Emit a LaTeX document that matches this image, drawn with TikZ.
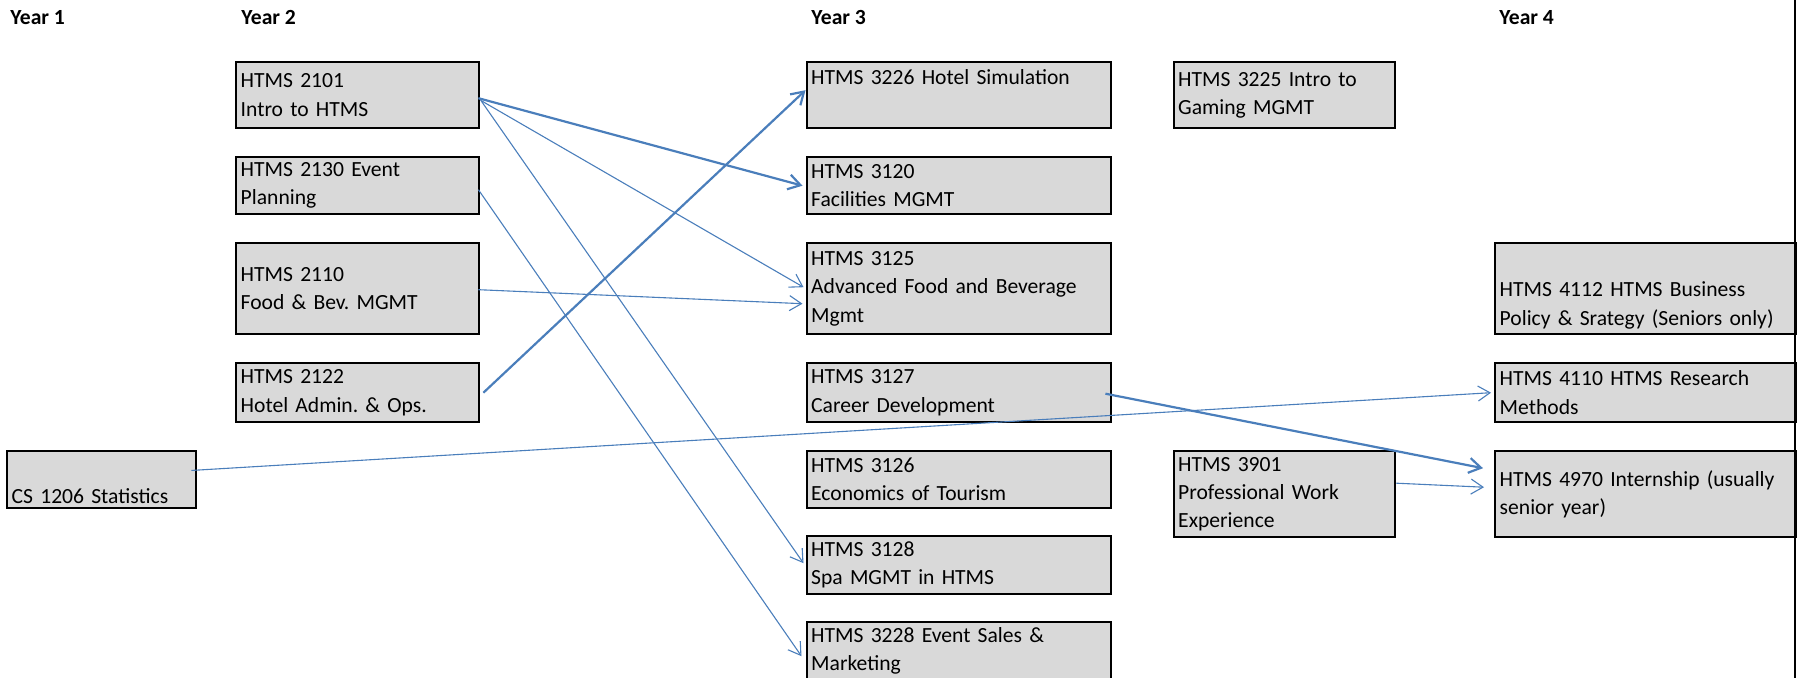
\documentclass[tikz,border=0pt]{standalone}
\usepackage{fontspec}
\setmainfont{Carlito}
\usetikzlibrary{arrows.meta}
\definecolor{boxgray}{HTML}{D9D9D9}
\definecolor{linkblue}{RGB}{74,126,187}
\frenchspacing

\begin{document}
\begin{tikzpicture}[x=0.5pt, y=-0.5pt,
  every node/.style={font=\fontsize{10.8}{14.15}\selectfont},
  year/.style={font=\fontsize{10.8}{14.15}\selectfont\bfseries, anchor=base west, inner sep=0pt},
  course/.style={draw=black, line width=1.2pt, fill=boxgray, anchor=north west, align=left, inner xsep=2.25pt, inner ysep=0pt},
  link/.style={draw=linkblue, line width=0.55pt, -{Straight Barb[length=6pt,width=7.5pt]}},
  boldlink/.style={link, line width=1.1pt}]
  \useasboundingbox (0,0) rectangle (1797,678);
  \clip (0,0) rectangle (1797,678);

  % year headings
  \node[year] (yr1) at (10,25) {Year 1};
  \node[year] (yr2) at (241,25) {Year 2};
  \node[year] (yr3) at (811,25) {Year 3};
  \node[year] (yr4) at (1499,25) {Year 4};

  % year 1
  \node[course, minimum width=94.5pt, minimum height=28.75pt, text width=90pt] (cstat) at (6,449.5) {\strut\\CS 1206 Statistics};

  % year 2
  \node[course, minimum width=121.5pt, minimum height=33pt, text width=117pt] (c2101) at (235,61) {HTMS 2101\\Intro to HTMS};
  \node[course, minimum width=121.5pt, minimum height=28.5pt, text width=117pt] (c2130) at (235,156) {HTMS 2130 Event\\Planning};
  \node[course, minimum width=121.5pt, minimum height=45.5pt, text width=117pt] (c2110) at (235,242) {HTMS 2110\\Food \& Bev. MGMT};
  \node[course, minimum width=121.5pt, minimum height=29.5pt, text width=117pt] (c2122) at (235,362) {HTMS 2122\\Hotel Admin. \& Ops.};

  % year 3
  \node[course, minimum width=152.25pt, minimum height=33pt, text width=147.75pt] (c3226) at (805.5,61) {HTMS 3226 Hotel Simulation\\\strut};
  \node[course, minimum width=152.25pt, minimum height=28.5pt, text width=147.75pt] (c3120) at (805.5,156) {HTMS 3120\\Facilities MGMT};
  \node[course, minimum width=152.25pt, minimum height=45.5pt, text width=147.75pt] (c3125) at (805.5,242) {HTMS 3125\\Advanced Food and Beverage\\Mgmt};
  \node[course, minimum width=152.25pt, minimum height=29.5pt, text width=147.75pt] (c3127) at (805.5,362) {HTMS 3127\\Career Development};
  \node[course, minimum width=152.25pt, minimum height=28.75pt, text width=147.75pt] (c3126) at (805.5,449.5) {HTMS 3126\\Economics of Tourism};
  \node[course, minimum width=152.25pt, minimum height=29pt, text width=147.75pt] (c3128) at (805.5,535) {HTMS 3128\\Spa MGMT in HTMS};
  \node[course, minimum width=152.25pt, minimum height=29pt, text width=147.75pt] (c3228) at (805.5,621) {HTMS 3228 Event Sales \&\\Marketing};
  \node[course, minimum width=110.75pt, minimum height=33pt, text width=106.25pt] (c3225) at (1172.5,61) {HTMS 3225 Intro to\\Gaming MGMT};
  \node[course, minimum width=110.75pt, minimum height=43pt, text width=106.25pt] (c3901) at (1172.5,450) {HTMS 3901\\Professional Work\\Experience};

  % year 4
  \node[course, minimum width=150.5pt, minimum height=45.5pt, text width=146pt] (c4112) at (1494,242) {\strut\\HTMS 4112 HTMS Business\\Policy \& Srategy (Seniors only)};
  \node[course, minimum width=150.5pt, minimum height=29.5pt, text width=146pt] (c4110) at (1494,362) {HTMS 4110 HTMS Research\\Methods};
  \node[course, minimum width=150.5pt, minimum height=43pt, text width=146pt] (c4970) at (1494,450) {HTMS 4970 Internship (usually\\senior year)};

  % right edge rule
  \coordinate (edgetop) at (1795,0);
  \coordinate (edgebot) at (1795,678);
  \draw[line width=1.2pt] (edgetop) -- (edgebot);

  % prerequisites
  \draw[boldlink] ([shift={(-2,3)}]c2101.east) -- ([shift={(-3,0)}]c3120.west);
  \draw[link] ([shift={(0,5)}]c2101.east) -- ([shift={(-2,-1.5)}]c3125.west);
  \draw[link] ([shift={(1,6)}]c2101.east) -- ([shift={(-2,-2)}]c3128.west);
  \draw[link] ([shift={(-2,4)}]c2130.east) -- ([shift={(-4,5)}]c3228.west);
  \draw[link] ([shift={(-2,1)}]c2110.east) -- ([shift={(-3,15)}]c3125.west);
  \draw[boldlink] ([shift={(3,0)}]c2122.east) -- ([shift={(0,-5)}]c3226.west);
  \draw[link] ([shift={(-6,-9)}]cstat.east) -- ([shift={(-3,0)}]c4110.west);
  \draw[boldlink] ([shift={(-7,1)}]c3127.east) -- ([shift={(-11,-26)}]c4970.west);
  \draw[link] ([shift={(0,-11)}]c3901.east) -- ([shift={(-10,-7)}]c4970.west);
\end{tikzpicture}
\end{document}
